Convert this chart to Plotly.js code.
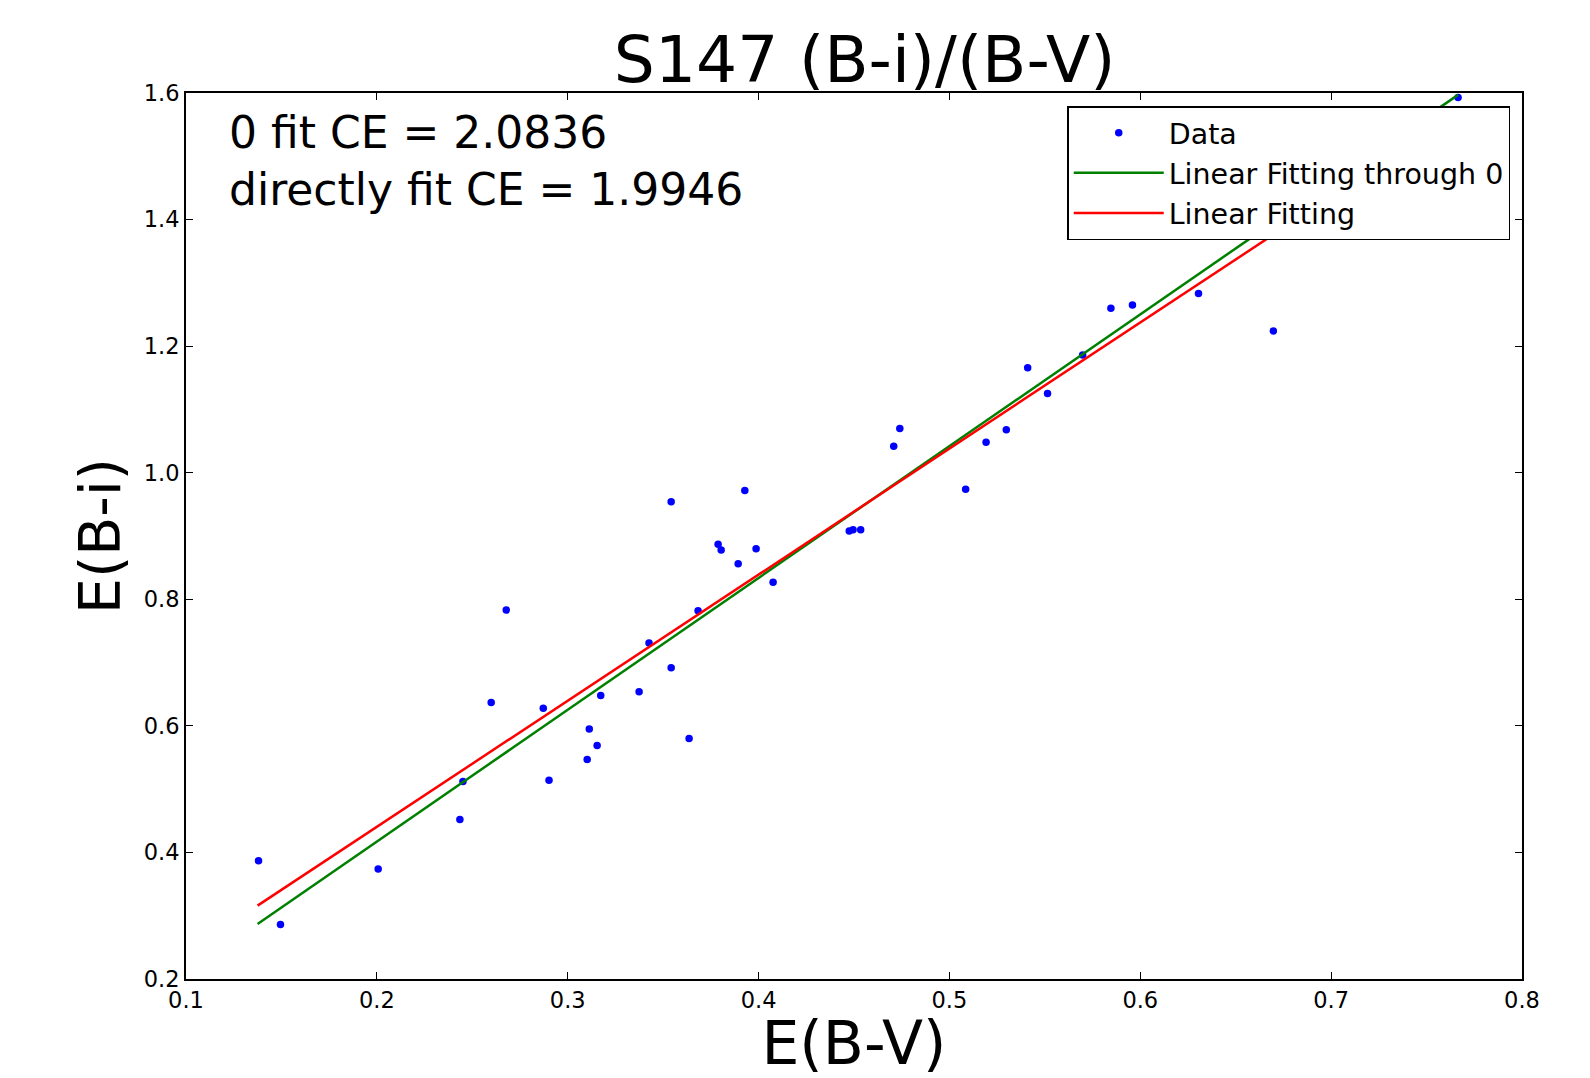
<!DOCTYPE html>
<html>
<head>
<meta charset="utf-8">
<script src="https://cdn.plot.ly/plotly-3.0.1.min.js"></script>
<style>html,body{margin:0;padding:0;background:#fff;}#chart{width:1590px;height:1078px;}</style>
</head>
<body>
<div id="chart"></div>
<script>
// Data points: E(B-V) vs E(B-i)
const ebv = [0.138, 0.1495, 0.2007, 0.2435, 0.2451, 0.2599, 0.2678, 0.2872, 0.2902, 0.3102,
             0.3113, 0.3154, 0.3173, 0.3374, 0.3426, 0.3542, 0.3542, 0.3636, 0.3683, 0.3788,
             0.3804, 0.3893, 0.3928, 0.3987, 0.4076, 0.4475, 0.4495, 0.4535, 0.4708, 0.4740,
             0.5085, 0.5192, 0.5298, 0.5410, 0.5514, 0.5698, 0.5846, 0.5959, 0.6305, 0.6697,
             0.7665];
const ebi = [0.387, 0.286, 0.374, 0.452, 0.512, 0.637, 0.783, 0.628, 0.514, 0.547,
             0.595, 0.569, 0.648, 0.654, 0.731, 0.954, 0.692, 0.580, 0.782, 0.887,
             0.878, 0.856, 0.972, 0.880, 0.827, 0.908, 0.910, 0.910, 1.042, 1.070,
             0.974, 1.048, 1.068, 1.166, 1.125, 1.186, 1.260, 1.265, 1.283, 1.224,
             1.593];

// Fit lines (end points)
const fitX = [0.1375, 0.7665];
const fitThrough0Y = [0.287, 1.597];
const fitY = [0.316, 1.569];

const xTickVals = [0.1, 0.2, 0.3, 0.4, 0.5, 0.6, 0.7, 0.8];
const xTickText = ["0.1", "0.2", "0.3", "0.4", "0.5", "0.6", "0.7", "0.8"];
const yTickVals = [0.2, 0.4, 0.6, 0.8, 1.0, 1.2, 1.4, 1.6];
const yTickText = ["0.2", "0.4", "0.6", "0.8", "1.0", "1.2", "1.4", "1.6"];

const titleText = "S147 (B-i)/(B-V)";
const xTitle = "E(B-V)";
const yTitle = "E(B-i)";
const noteText = "0 fit CE = 2.0836<br>directly fit CE = 1.9946";

const FONT = "DejaVu Sans";

const traces = [
  {x: ebv, y: ebi, mode: "markers", type: "scatter", name: "Data", legendgroup: "a",
   marker: {color: "#0000ff", size: 7.5}},
  {x: fitX, y: fitThrough0Y, mode: "lines", type: "scatter", name: "Linear Fitting through 0", legendgroup: "b",
   line: {color: "#008000", width: 2.5}},
  {x: fitX, y: fitY, mode: "lines", type: "scatter", name: "Linear Fitting", legendgroup: "c",
   line: {color: "#ff0000", width: 2.5}}
];

const axisCommon = {
  showgrid: false, zeroline: false, showline: true, linecolor: "#000", linewidth: 2,
  mirror: "ticks", ticks: "inside", ticklen: 7, tickwidth: 1, tickcolor: "#000",
  tickfont: {family: FONT, size: 22.5, color: "#000"}
};

const layout = {
  width: 1590, height: 1078,
  paper_bgcolor: "#fff", plot_bgcolor: "#fff",
  margin: {l: 186, r: 68, t: 93, b: 99},
  font: {family: FONT, color: "#000"},
  showlegend: true,
  title: {text: titleText, font: {family: FONT, size: 64.7, color: "#000"},
          xref: "paper", x: 0.508, xanchor: "center", yref: "container", y: 1 - 59/1078, yanchor: "middle"},
  xaxis: Object.assign({}, axisCommon, {
    range: [0.1, 0.8], tickvals: xTickVals, ticktext: xTickText,
    title: {text: xTitle, font: {family: FONT, size: 60, color: "#000"}, standoff: 8}
  }),
  yaxis: Object.assign({}, axisCommon, {
    range: [0.2, 1.6], tickvals: yTickVals, ticktext: yTickText,
    title: {text: yTitle, font: {family: FONT, size: 57, color: "#000"}, standoff: 5}
  }),
  legend: {x: 0.9912, xanchor: "right", y: 0.985, yanchor: "top",
           bgcolor: "#fff", bordercolor: "#000", borderwidth: 1.5, itemwidth: 90,
           font: {family: FONT, size: 28.5, color: "#000"}, tracegroupgap: 0},
  annotations: [{
    text: noteText, xref: "paper", yref: "paper", x: 0.031, y: 0.987,
    xanchor: "left", yanchor: "top", align: "left", showarrow: false,
    font: {family: FONT, size: 44, color: "#000"}
  }]
};

Plotly.newPlot("chart", traces, layout, {displayModeBar: false, staticPlot: true});
</script>
</body>
</html>
